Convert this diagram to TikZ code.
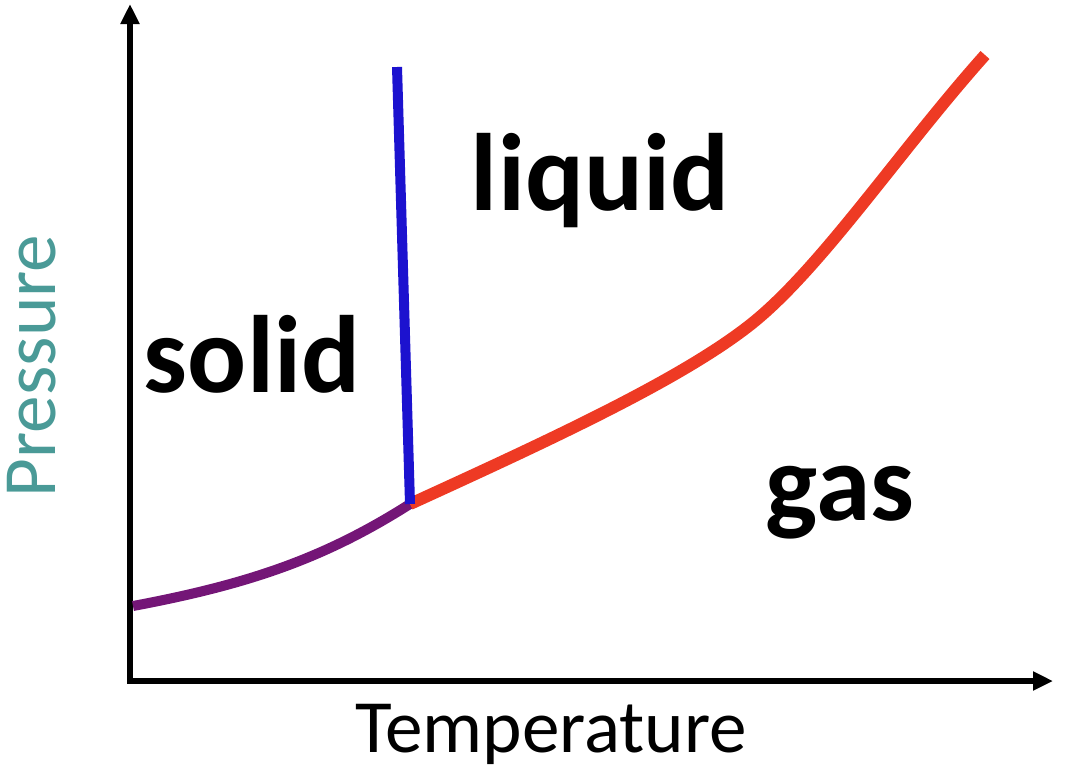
\documentclass[tikz,border=0pt]{standalone}
\usepackage{fontspec}
\setmainfont{Carlito}
\usepackage{tikz}
\usetikzlibrary{arrows.meta,positioning}
\usepackage{xcolor}
\definecolor{solidline}{HTML}{1C12CF}
\definecolor{subline}{HTML}{741677}
\definecolor{boilline}{HTML}{EE3A24}
\definecolor{axislabel}{HTML}{4A9A97}

\begin{document}
\begin{tikzpicture}[x=0.5pt, y=-0.5pt,
    axis/.style={line width=2.6pt, -{Triangle[length=10pt, width=9pt]}},
    phase/.style={font=\fontsize{55}{55}\selectfont\bfseries, inner sep=0pt},
    axlabel/.style={font=\fontsize{37.6}{38}\selectfont, inner sep=0pt}]
  \useasboundingbox (0,0) rectangle (1068,776);

  % Axes
  \coordinate (origin) at (130,681);
  \coordinate (ptop) at (130,4);
  \coordinate (tend) at (1053,681);
  \draw[axis] ([yshift=-1.3pt]origin) -- (ptop);
  \draw[axis] ([xshift=-1.3pt]origin) -- (tend);
  \node[axlabel, anchor=base] (temp) at (551,752) {Temperature};
  \node[axlabel, anchor=base, rotate=90, text=axislabel] (press) at (55,366) {Pressure};

  % Phase boundaries
  \coordinate (subl) at (133,606);
  \coordinate (triple) at (410,504);
  \coordinate (melt) at (397,67);
  \coordinate (bend) at (750,325);
  \coordinate (crit) at (985,55);
  \draw[subline, line width=5pt] (subl) .. controls (250,584) and (325,558) .. (triple);
  \draw[boilline, line width=6pt] (triple) .. controls (550,440) and (680,380) .. (bend)
    .. controls (820,270) and (900,150) .. (crit);
  \draw[solidline, line width=5pt] (triple) -- (melt);

  % Phase names
  \node[phase, anchor=base] (solid) at (252,392) {solid};
  \node[phase, anchor=base] (liquid) at (600,210) {liquid};
  \node[phase, anchor=base] (gas) at (840,520) {gas};
\end{tikzpicture}
\end{document}
